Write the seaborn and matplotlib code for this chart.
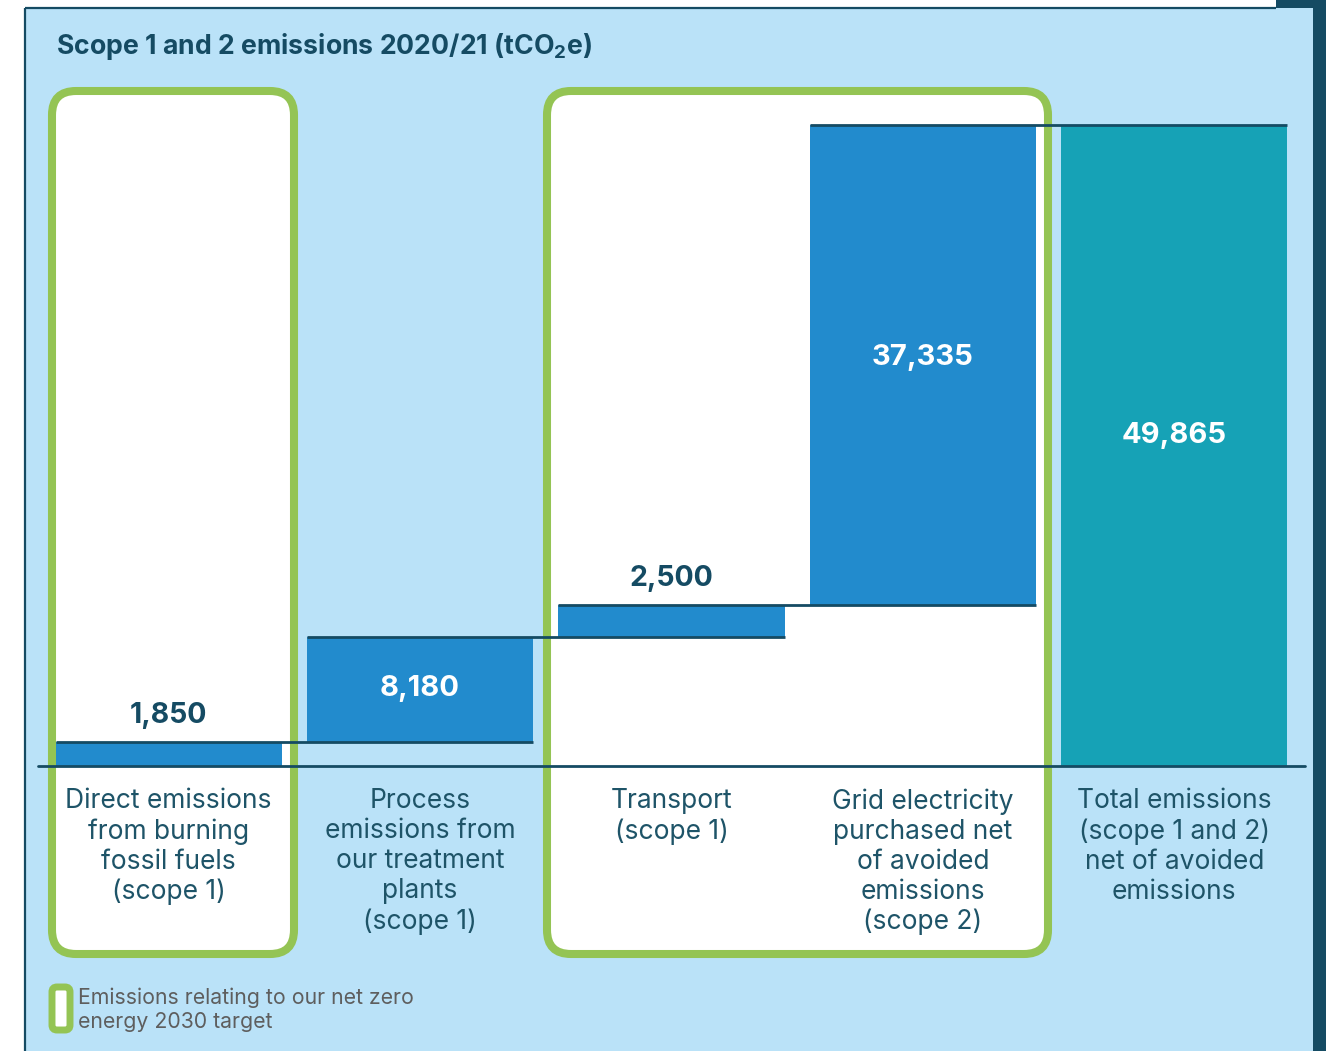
import matplotlib
matplotlib.use("Agg")
import matplotlib.pyplot as plt
from matplotlib.patches import FancyBboxPatch, Rectangle
import numpy as np
import pandas as pd
import seaborn as sns

# ---- data -------------------------------------------------------------
categories = [
    "Direct emissions\nfrom burning\nfossil fuels\n(scope 1)",
    "Process\nemissions from\nour treatment\nplants\n(scope 1)",
    "Transport\n(scope 1)",
    "Grid electricity\npurchased net\nof avoided\nemissions\n(scope 2)",
    "Total emissions\n(scope 1 and 2)\nnet of avoided\nemissions",
]
values = [1850, 8180, 2500, 37335, 49865]
value_labels = ["1,850", "8,180", "2,500", "37,335", "49,865"]
is_total = [False, False, False, False, True]

title = "Scope 1 and 2 emissions 2020/21 (tCO$_2$e)"
legend_text = "Emissions relating to our net zero\nenergy 2030 target"

# ---- style ------------------------------------------------------------
PANEL = "#BAE2F8"
NAVY = "#154B63"
TEXT = "#1E5468"
BLUE = "#228BCD"
TEAL = "#16A2B6"
GREEN = "#94C454"
GREY = "#5E5E5E"

sns.set_theme(style="white")
FONT = ["Inter", "DejaVu Sans"]
plt.rcParams["font.family"] = FONT
plt.rcParams["mathtext.default"] = "regular"

W, H = 1326, 1051
fig = plt.figure(figsize=(W / 100, H / 100), dpi=100)
fig.patch.set_facecolor("white")

# background layer in pixel units (panel, frames, highlight boxes)
bg = fig.add_axes([0, 0, 1, 1], zorder=0)
bg.set_xlim(0, W)
bg.set_ylim(H, 0)
bg.axis("off")

bg.add_patch(Rectangle((25, 8), 1288, H - 8, facecolor=PANEL, edgecolor="none"))
bg.plot([25, 25], [8, H], color=NAVY, lw=1.6, solid_capstyle="butt")
bg.plot([25, 1276], [8, 8], color=NAVY, lw=1.6, solid_capstyle="butt")
bg.add_patch(Rectangle((1313, 0), 13, H, facecolor=NAVY, edgecolor="none"))
bg.add_patch(Rectangle((1276, 0), 50, 8, facecolor=NAVY, edgecolor="none"))

for x0, x1 in [(52, 294), (547, 1048)]:
    bg.add_patch(FancyBboxPatch((x0, 91), x1 - x0, 954 - 91,
                                boxstyle="round,pad=0,rounding_size=24",
                                facecolor="white", edgecolor=GREEN, lw=5.8))

# legend swatch + text
bg.add_patch(FancyBboxPatch((52, 987), 18, 43,
                            boxstyle="round,pad=0,rounding_size=5",
                            facecolor="white", edgecolor=GREEN, lw=5.0))
bg.text(78, 1010, legend_text, ha="left", va="center", fontsize=15.3,
        color=GREY, linespacing=1.24)

bg.text(56, 46, title, ha="left", va="center", fontsize=19.2,
        fontweight="bold", color=NAVY)

# ---- waterfall --------------------------------------------------------
total = values[-1]
bottoms = []
running = 0
for v, tot in zip(values, is_total):
    if tot:
        bottoms.append(0)
    else:
        bottoms.append(running)
        running += v
tops = [b + v for b, v in zip(bottoms, values)]

df = pd.DataFrame({"category": categories, "value": values})
palette = {c: (TEAL if t else BLUE) for c, t in zip(categories, is_total)}

left_px, right_px, base_px, top_px = 38, 1305, 766, 125
ax = fig.add_axes([left_px / W, (H - base_px) / H,
                   (right_px - left_px) / W, (base_px - top_px) / H], zorder=2)
ax.set_facecolor("none")

sns.barplot(data=df, x="category", y="value", hue="category", palette=palette,
            order=categories, hue_order=categories, width=0.9, saturation=1,
            legend=False, ax=ax, linewidth=0)
for patch, b in zip(ax.patches, bottoms):
    patch.set_y(b)

ax.set_xlim(-0.52, 4.52)
ax.set_ylim(0, total)
ax.axis("off")

# step connectors
for i in range(len(values) - 1):
    ax.hlines(tops[i], i - 0.45, i + 1 + 0.45, color=NAVY, lw=2.0,
              clip_on=False, zorder=5)
ax.axhline(0, color=NAVY, lw=2.0, clip_on=False, zorder=5)

# value labels
for i, (b, v, lab) in enumerate(zip(bottoms, values, value_labels)):
    if v / total > 0.1:
        ax.text(i, b + v * 0.515, lab, ha="center", va="center",
                fontsize=21, fontweight="bold", color="white", zorder=6)
    else:
        ax.annotate(lab, xy=(i, b + v), xytext=(0, 19), textcoords="offset points",
                    ha="center", va="center", fontsize=20.5, fontweight="bold",
                    color=NAVY, zorder=6)

# category labels
for i, cat in enumerate(categories):
    ax.annotate(cat, xy=(i, 0), xytext=(0, -16), textcoords="offset points",
                ha="center", va="top", fontsize=19, color=TEXT,
                linespacing=1.2, annotation_clip=False)

fig.savefig("out.png", dpi=100, facecolor=fig.get_facecolor())
